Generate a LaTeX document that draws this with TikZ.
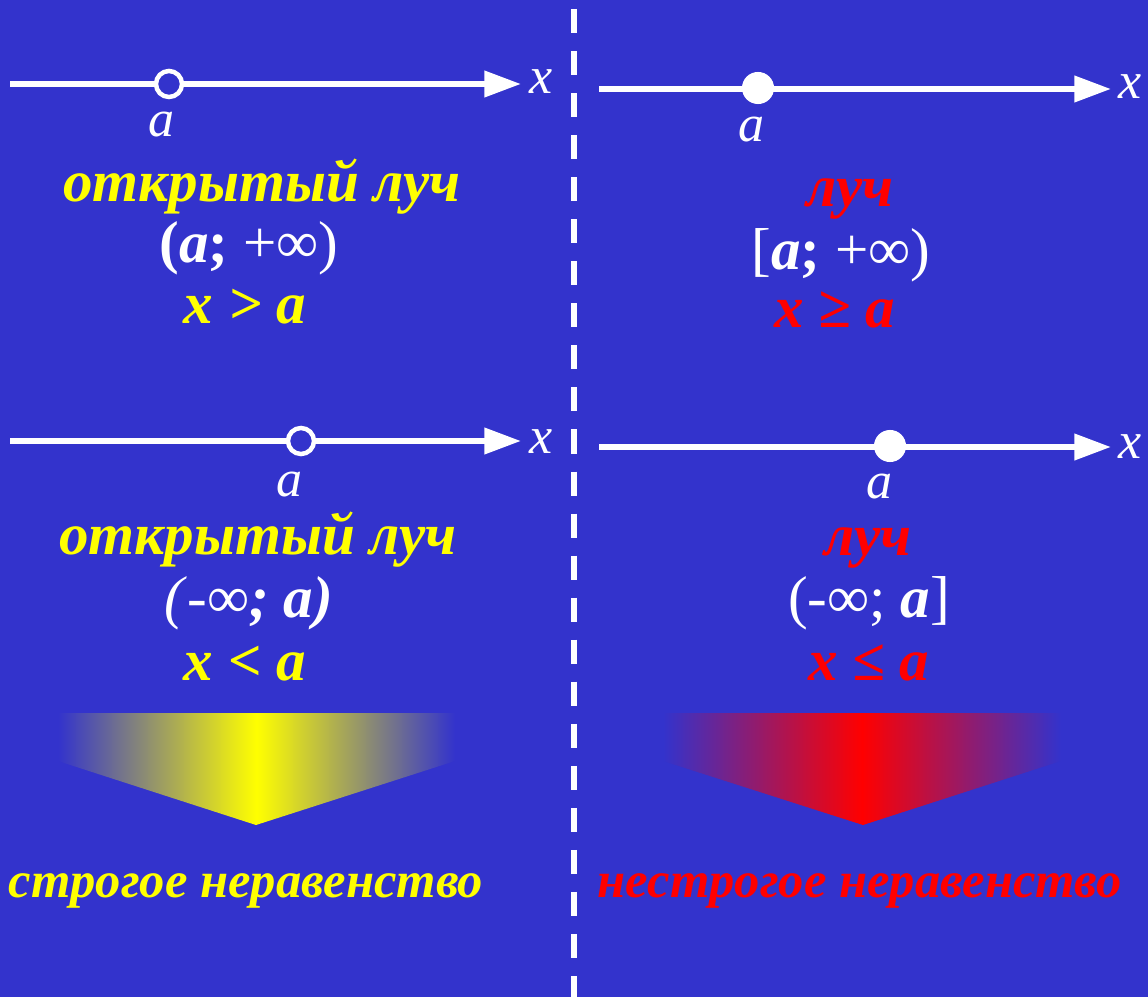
\documentclass[tikz,border=0pt]{standalone}
\usepackage{fontspec}
\setmainfont{Liberation Serif}
\usetikzlibrary{arrows.meta}
\definecolor{bgblue}{RGB}{51,51,204}
\definecolor{rayyellow}{RGB}{255,255,0}
\definecolor{rayred}{RGB}{255,0,0}

\begin{document}
\begin{tikzpicture}[x=0.025cm, y=-0.025cm,
    axis/.style={white, line width=4.2pt, -{Triangle[length=26pt, width=18pt]}},
    opendot/.style={circle, draw=white, line width=3.2pt, fill=bgblue, inner sep=0pt, minimum size=18.5pt},
    filldot/.style={circle, fill=white, inner sep=0pt, minimum size=22.8pt},
    axlbl/.style={white, inner sep=0pt, font=\itshape\fontsize{37}{40}\selectfont},
    caption/.style={anchor=base, inner sep=0pt, font=\bfseries\itshape\fontsize{42}{46}\selectfont},
    intv/.style={anchor=base, inner sep=0pt, white, font=\fontsize{42}{46}\selectfont},
    verdict/.style={anchor=base, inner sep=0pt, font=\bfseries\itshape\fontsize{36}{40}\selectfont}
  ]
  \fill[bgblue] (0,0) rectangle (1148,997);
  \useasboundingbox (0,0) rectangle (1148,997);

  % dividing line
  \coordinate (divtop) at (574,9);
  \coordinate (divbot) at (574,997);
  \draw[white, line width=3.6pt, dash pattern=on 17.1pt off 12.8pt] (divtop) -- (divbot);

  % x > a
  \coordinate (ax1s) at (10,84);
  \coordinate (ax1e) at (521,84);
  \draw[axis] (ax1s) -- (ax1e);
  \node[opendot] (pt1) at (169,84) {};
  \node[axlbl] (x1) at (541,82) {x};
  \node[axlbl] (a1) at (162,125) {a};
  \node[caption, rayyellow] (name1) at (262,202) {открытый луч};
  \node[intv] (int1) at (249,263) {\textbf{(\textit{a};} +∞)};
  \node[caption, rayyellow] (ineq1) at (245,323) {x > a};

  % x >= a
  \coordinate (ax2s) at (599,89);
  \coordinate (ax2e) at (1111,89);
  \draw[axis] (ax2s) -- (ax2e);
  \node[filldot] (pt2) at (758,88) {};
  \node[axlbl] (x2) at (1130,87) {x};
  \node[axlbl] (a2) at (751,130) {a};
  \node[caption, rayred] (name2) at (850,207) {луч};
  \node[intv] (int2) at (841,270) {[\textbf{\textit{a};} +∞)};
  \node[caption, rayred] (ineq2) at (835,328) {x ≥ a};

  % x < a
  \coordinate (ax3s) at (10,441);
  \coordinate (ax3e) at (521,441);
  \draw[axis] (ax3s) -- (ax3e);
  \node[opendot] (pt3) at (301,441) {};
  \node[axlbl] (x3) at (541,442) {x};
  \node[axlbl] (a3) at (290,485) {a};
  \node[caption, rayyellow] (name3) at (258,554) {открытый луч};
  \node[intv] (int3) at (249,617) {\textit{(}-∞\textbf{\textit{; a)}}};
  \node[caption, rayyellow] (ineq3) at (245,680) {x < a};

  % x <= a
  \coordinate (ax4s) at (599,447);
  \coordinate (ax4e) at (1111,447);
  \draw[axis] (ax4s) -- (ax4e);
  \node[filldot] (pt4) at (890,446) {};
  \node[axlbl] (x4) at (1130,447) {x};
  \node[axlbl] (a4) at (879,487) {a};
  \node[caption, rayred] (name4) at (868,555) {луч};
  \node[intv] (int4) at (869,617) {(-∞; \textbf{\textit{a}}]};
  \node[caption, rayred] (ineq4) at (869,680) {x ≤ a};

  % pointers
  \shade[left color=bgblue, right color=bgblue, middle color=rayyellow]
    (58,713) -- (455,713) -- (455,761) -- (256,825) -- (58,761) -- cycle;
  \shade[left color=bgblue, right color=bgblue, middle color=rayred]
    (663,713) -- (1061,713) -- (1061,761) -- (863,825) -- (663,761) -- cycle;

  \node[verdict, rayyellow] (strict) at (246,897) {строгое неравенство};
  \node[verdict, rayred] (loose) at (860,897) {нестрогое неравенство};
\end{tikzpicture}
\end{document}
